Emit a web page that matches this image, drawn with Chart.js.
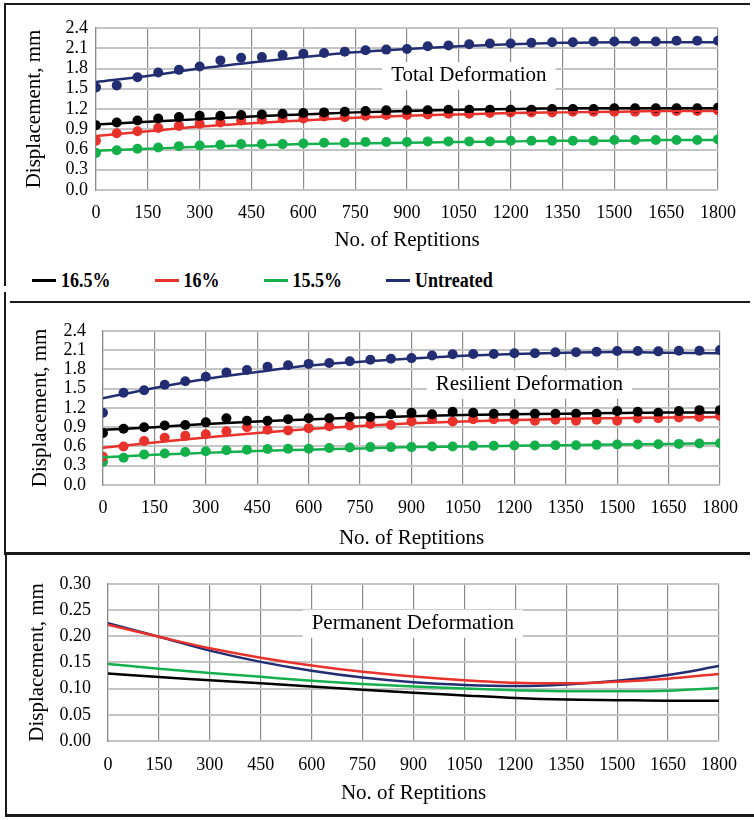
<!DOCTYPE html>
<html>
<head>
<meta charset="utf-8">
<script src="https://cdn.jsdelivr.net/npm/chart.js@4.4.0/dist/chart.umd.min.js"></script>
<style>
  body { margin: 0; background: #fff; width: 754px; height: 820px; position: relative; overflow: hidden; }
  canvas { position: absolute; }
  .rule { position: absolute; background: #1a1a1a; }
  #legend { position: absolute; left: 32px; top: 269px; height: 22px; display: flex; align-items: center; gap: 44px;
            font: bold 18px "Liberation Serif", serif; color: #000; }
  #legend .item { display: flex; align-items: center; gap: 5px; }
  #legend .item span { display: inline-block; transform: scaleY(1.2); }
  #legend i { display: block; width: 24px; height: 3px; }
</style>
</head>
<body>
<div class="rule" style="left:5px;top:3px;width:745px;height:2px"></div>
<div class="rule" style="left:4px;top:3px;width:2px;height:283px"></div>
<div class="rule" style="left:10px;top:301px;width:740px;height:2px"></div>
<div class="rule" style="left:4px;top:292px;width:2px;height:261px"></div>
<div class="rule" style="left:4px;top:552px;width:746px;height:3px"></div>
<div class="rule" style="left:5px;top:553px;width:2px;height:262px"></div>
<div class="rule" style="left:5px;top:814px;width:749px;height:3px"></div>

<canvas id="totalChart" width="745" height="262" style="left:5px;top:5px"></canvas>
<div id="legend"></div>
<canvas id="resilientChart" width="745" height="248" style="left:5px;top:303px"></canvas>
<canvas id="permanentChart" width="744" height="256" style="left:6px;top:556px"></canvas>

<script>
// repetitions at which readings were taken
const reps = [0, 60, 120, 180, 240, 300, 360, 420, 480, 540, 600, 660, 720, 780, 840, 900,
              960, 1020, 1080, 1140, 1200, 1260, 1320, 1380, 1440, 1500, 1560, 1620, 1680, 1740, 1800];
// repetitions used for the fitted curves
const fitReps = [0, 150, 300, 450, 600, 750, 900, 1050, 1200, 1350, 1500, 1650, 1800];

const seriesNames = ['16.5%', '16%', '15.5%', 'Untreated'];
const seriesColors = ['#000000', '#e8322b', '#13b04b', '#232e72'];

// Total deformation (mm)
const total165 = [0.96, 1.00, 1.03, 1.06, 1.08, 1.10, 1.10, 1.11, 1.12, 1.13, 1.14, 1.15, 1.16, 1.17, 1.18, 1.18,
                  1.18, 1.19, 1.19, 1.19, 1.19, 1.19, 1.20, 1.20, 1.20, 1.21, 1.21, 1.21, 1.21, 1.21, 1.22];
const total16 = [0.73, 0.84, 0.87, 0.92, 0.95, 0.98, 1.00, 1.03, 1.04, 1.06, 1.06, 1.09, 1.08, 1.10, 1.11, 1.11,
                 1.12, 1.13, 1.13, 1.14, 1.15, 1.15, 1.15, 1.16, 1.16, 1.16, 1.16, 1.16, 1.17, 1.17, 1.18];
const total155 = [0.55, 0.59, 0.61, 0.63, 0.65, 0.66, 0.67, 0.68, 0.68, 0.68, 0.69, 0.70, 0.70, 0.71, 0.71, 0.71,
                  0.72, 0.72, 0.72, 0.72, 0.73, 0.73, 0.73, 0.73, 0.73, 0.74, 0.74, 0.74, 0.74, 0.74, 0.75];
const totalUnt = [1.52, 1.55, 1.67, 1.74, 1.78, 1.83, 1.92, 1.96, 1.97, 2.00, 2.02, 2.03, 2.05, 2.07, 2.08, 2.09,
                  2.13, 2.14, 2.16, 2.17, 2.17, 2.18, 2.19, 2.19, 2.20, 2.20, 2.20, 2.20, 2.21, 2.21, 2.21];
const totalFit165 = [0.97, 1.01, 1.05, 1.09, 1.12, 1.15, 1.17, 1.19, 1.20, 1.21, 1.21, 1.21, 1.21];
const totalFit16 = [0.80, 0.87, 0.94, 0.99, 1.03, 1.07, 1.10, 1.12, 1.14, 1.15, 1.16, 1.17, 1.17];
const totalFit155 = [0.58, 0.61, 0.64, 0.66, 0.68, 0.69, 0.70, 0.71, 0.72, 0.73, 0.73, 0.74, 0.74];
const totalFitUnt = [1.60, 1.69, 1.80, 1.89, 1.97, 2.04, 2.09, 2.13, 2.16, 2.18, 2.19, 2.19, 2.19];

// Resilient deformation (mm)
const res165 = [0.81, 0.875, 0.90, 0.925, 0.935, 0.975, 1.04, 1.00, 1.00, 1.025, 1.04, 1.04, 1.06, 1.06, 1.10, 1.125,
                1.10, 1.14, 1.125, 1.11, 1.10, 1.11, 1.11, 1.11, 1.11, 1.15, 1.14, 1.125, 1.15, 1.165, 1.165];
const res16 = [0.44, 0.60, 0.685, 0.735, 0.765, 0.79, 0.835, 0.90, 0.86, 0.85, 0.885, 0.915, 0.925, 0.95, 0.935, 0.99,
               1.025, 0.99, 1.025, 1.025, 1.015, 1.00, 1.015, 1.00, 1.015, 1.00, 1.035, 1.04, 1.05, 1.06, 1.075];
const res155 = [0.36, 0.425, 0.475, 0.49, 0.515, 0.525, 0.54, 0.55, 0.56, 0.565, 0.565, 0.575, 0.585, 0.59, 0.59, 0.59,
                0.60, 0.60, 0.61, 0.61, 0.615, 0.615, 0.62, 0.62, 0.625, 0.63, 0.63, 0.635, 0.64, 0.645, 0.65];
const resUnt = [1.125, 1.435, 1.475, 1.56, 1.615, 1.685, 1.75, 1.79, 1.84, 1.865, 1.885, 1.90, 1.925, 1.95, 1.965, 1.975,
                2.015, 2.035, 2.04, 2.04, 2.05, 2.05, 2.065, 2.065, 2.075, 2.085, 2.085, 2.08, 2.09, 2.09, 2.10];
const resFit165 = [0.86, 0.90, 0.95, 0.99, 1.02, 1.05, 1.07, 1.09, 1.10, 1.11, 1.12, 1.13, 1.13];
const resFit16 = [0.58, 0.66, 0.74, 0.81, 0.87, 0.92, 0.96, 0.99, 1.01, 1.03, 1.04, 1.05, 1.06];
const resFit155 = [0.43, 0.47, 0.50, 0.53, 0.55, 0.57, 0.59, 0.60, 0.61, 0.62, 0.63, 0.64, 0.65];
const resFitUnt = [1.35, 1.51, 1.65, 1.76, 1.86, 1.92, 1.97, 2.01, 2.04, 2.06, 2.07, 2.06, 2.05];

// Permanent deformation (mm), fitted curves only
const perm165 = [0.129, 0.122, 0.116, 0.110, 0.104, 0.098, 0.092, 0.087, 0.082, 0.079, 0.078, 0.077, 0.077];
const perm16 = [0.222, 0.199, 0.177, 0.159, 0.144, 0.132, 0.123, 0.116, 0.111, 0.110, 0.113, 0.119, 0.128];
const perm155 = [0.147, 0.138, 0.130, 0.1225, 0.115, 0.109, 0.104, 0.100, 0.097, 0.095, 0.095, 0.096, 0.101];
const permUnt = [0.225, 0.199, 0.1725, 0.151, 0.134, 0.121, 0.112, 0.107, 0.105, 0.108, 0.115, 0.126, 0.143];

const xTitle = 'No. of Reptitions';
const yTitle = 'Displacement, mm';

const FONT = '"Liberation Serif", "Times New Roman", serif';
const tickFont = { family: FONT, size: 18 };
const titleFont = { family: FONT, size: 21 };

const pairs = (xs, ys) => xs.map((x, i) => ({ x, y: ys[i] }));

function pointSet(i, values) {
    return {
        label: seriesNames[i],
        data: pairs(reps, values),
        showLine: false,
        borderColor: seriesColors[i],
        backgroundColor: seriesColors[i],
        pointBackgroundColor: seriesColors[i],
        pointBorderWidth: 0,
        pointRadius: 5
    };
}

function fitSet(i, values) {
    return {
        label: seriesNames[i],
        data: pairs(fitReps, values),
        borderColor: seriesColors[i],
        borderWidth: 2.5,
        pointRadius: 0,
        cubicInterpolationMode: 'monotone'
    };
}

// white-boxed title sitting inside the plot, like the original
const panelTitle = {
    id: 'panelTitle',
    beforeDatasetsDraw(chart, args, opts) {
        const { ctx } = chart;
        const cx = chart.scales.x.getPixelForValue(opts.x);
        const cy = chart.scales.y.getPixelForValue(opts.y);
        ctx.save();
        ctx.font = '21px ' + FONT;
        const w = ctx.measureText(opts.text).width + 18;
        ctx.fillStyle = '#fff';
        ctx.fillRect(cx - w / 2, cy - 14, w, 28);
        ctx.fillStyle = '#000';
        ctx.textAlign = 'center';
        ctx.textBaseline = 'middle';
        ctx.fillText(opts.text, cx, cy);
        ctx.restore();
    }
};

function makeChart(id, datasets, c) {
    return new Chart(document.getElementById(id), {
        type: 'line',
        data: { datasets },
        options: {
            responsive: false,
            animation: false,
            layout: { padding: { top: c.padTop, right: c.padRight, left: 0, bottom: 0 } },
            plugins: {
                legend: { display: false },
                tooltip: { enabled: false },
                panelTitle: c.title
            },
            scales: {
                x: {
                    type: 'linear',
                    min: 0,
                    max: 1800,
                    ticks: {
                        stepSize: 150,
                        padding: c.xTickPad,
                        color: '#000',
                        font: tickFont,
                        maxRotation: 0,
                        autoSkip: false,
                        callback: v => String(v)
                    },
                    grid: { color: '#8c8c8c', lineWidth: 1.2, drawTicks: false },
                    border: { color: '#c4c4c4', width: 2 },
                    title: {
                        display: true,
                        text: xTitle,
                        color: '#000',
                        font: titleFont,
                        padding: { top: 0, bottom: c.xTitlePad }
                    },
                    afterFit: s => { s.height = c.xHeight; }
                },
                y: {
                    min: 0,
                    max: c.yMax,
                    ticks: {
                        stepSize: c.yStep,
                        padding: c.yTickPad,
                        color: '#000',
                        font: tickFont,
                        autoSkip: false,
                        callback: v => v.toFixed(c.decimals)
                    },
                    grid: { color: '#c4c4c4', lineWidth: 2, drawTicks: false },
                    border: { color: '#8c8c8c', width: 1.2 },
                    title: {
                        display: true,
                        text: yTitle,
                        color: '#000',
                        font: titleFont,
                        padding: { top: c.yTitlePad, bottom: 0 }
                    },
                    afterFit: s => { s.width = c.yWidth; }
                }
            }
        },
        plugins: [panelTitle]
    });
}

makeChart('totalChart', [
    fitSet(0, totalFit165), fitSet(1, totalFit16), fitSet(2, totalFit155), fitSet(3, totalFitUnt),
    pointSet(0, total165), pointSet(1, total16), pointSet(2, total155), pointSet(3, totalUnt)
], {
    padTop: 23, padRight: 32, xHeight: 77, xTickPad: 12, xTitlePad: 14.4,
    yWidth: 91, yTickPad: 8, yTitlePad: 16.4, yMax: 2.4, yStep: 0.3, decimals: 1,
    title: { text: 'Total Deformation', x: 1079, y: 1.69 }
});

makeChart('resilientChart', [
    fitSet(0, resFit165), fitSet(1, resFit16), fitSet(2, resFit155), fitSet(3, resFitUnt),
    pointSet(0, res165), pointSet(1, res16), pointSet(2, res155), pointSet(3, resUnt)
], {
    padTop: 22, padRight: 24, xHeight: 66, xTickPad: 12, xTitlePad: 0.4,
    yWidth: 98, yTickPad: 17, yTitlePad: 22.4, yMax: 2.4, yStep: 0.3, decimals: 1,
    title: { text: 'Resilient Deformation', x: 1244, y: 1.56 }
});

makeChart('permanentChart', [
    fitSet(0, perm165), fitSet(1, perm16), fitSet(2, perm155), fitSet(3, permUnt)
], {
    padTop: 24, padRight: 28, xHeight: 71, xTickPad: 13, xTitlePad: 6.4,
    yWidth: 102, yTickPad: 17, yTitlePad: 18.4, yMax: 0.3, yStep: 0.05, decimals: 2,
    title: { text: 'Permanent Deformation', x: 898, y: 0.2236 }
});

// shared legend under the first panel
const legendBox = document.getElementById('legend');
seriesNames.forEach((name, i) => {
    const item = document.createElement('span');
    item.className = 'item';
    const swatch = document.createElement('i');
    swatch.style.background = seriesColors[i];
    const label = document.createElement('span');
    label.textContent = name;
    item.appendChild(swatch);
    item.appendChild(label);
    legendBox.appendChild(item);
});
</script>
</body>
</html>
